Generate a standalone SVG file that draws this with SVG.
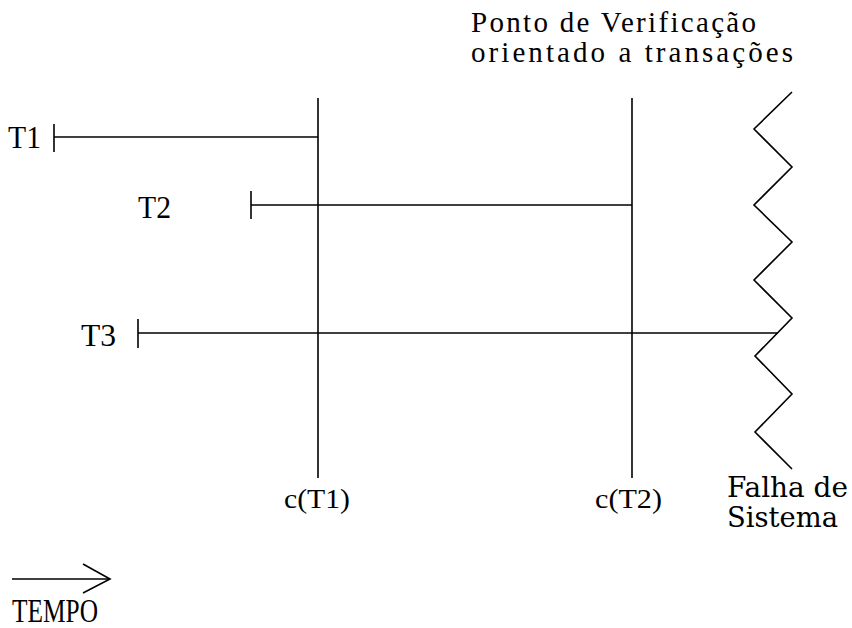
<svg xmlns="http://www.w3.org/2000/svg" width="852" height="628" viewBox="0 0 852 628">
  <style>
    .ln { stroke: #000; stroke-width: 1.6; fill: none; }
    .lbl { font-family: "Liberation Serif", serif; font-size: 31px; fill: #000; }
    .cp { font-family: "Liberation Serif", serif; font-size: 27px; fill: #000; }
    .mono { font-family: "DejaVu Serif", serif; font-size: 28px; fill: #000; }
    .title { font-family: "Liberation Serif", serif; font-size: 29px; fill: #000; }
    .axis { font-family: "Liberation Serif", serif; font-size: 33px; fill: #000; }
  </style>
  <rect width="852" height="628" fill="#fff"/>

  <!-- transactions -->
  <g id="t1">
    <line class="ln" x1="54" y1="124" x2="54" y2="152"/>
    <line class="ln" x1="54" y1="137" x2="318" y2="137"/>
    <text class="lbl" x="8" y="148" textLength="33" lengthAdjust="spacingAndGlyphs">T1</text>
  </g>
  <g id="t2">
    <line class="ln" x1="251" y1="191" x2="251" y2="219"/>
    <line class="ln" x1="251" y1="205" x2="632" y2="205"/>
    <text class="lbl" x="138" y="218" textLength="33" lengthAdjust="spacingAndGlyphs">T2</text>
  </g>
  <g id="t3">
    <line class="ln" x1="138" y1="319" x2="138" y2="348"/>
    <line class="ln" x1="138" y1="333" x2="778" y2="333"/>
    <text class="lbl" x="81" y="346" textLength="35" lengthAdjust="spacingAndGlyphs">T3</text>
  </g>

  <!-- commit points -->
  <g id="cT1">
    <line class="ln" x1="318" y1="98" x2="318" y2="478"/>
    <text class="cp" x="284" y="508" textLength="66" lengthAdjust="spacingAndGlyphs">c(T1)</text>
  </g>
  <g id="cT2">
    <line class="ln" x1="632" y1="98" x2="632" y2="478"/>
    <text class="cp" x="595" y="508" textLength="67" lengthAdjust="spacingAndGlyphs">c(T2)</text>
  </g>

  <!-- checkpoint caption -->
  <g id="checkpoint">
    <text class="title" x="471" y="32" textLength="285" lengthAdjust="spacing">Ponto de Verificação</text>
    <text class="title" x="471" y="62" textLength="322" lengthAdjust="spacing">orientado a transações</text>
  </g>

  <!-- system failure -->
  <g id="failure">
    <polyline class="ln" points="792,92 754,129 792,167 754,205 792,242 754,280 792,318 755,356 792,394 755,432 792,469"/>
    <text class="mono" x="727" y="497" textLength="121" lengthAdjust="spacingAndGlyphs">Falha de</text>
    <text class="mono" x="727" y="527" textLength="111" lengthAdjust="spacingAndGlyphs">Sistema</text>
  </g>

  <!-- time axis -->
  <g id="time">
    <line class="ln" x1="12" y1="579" x2="110" y2="579"/>
    <polyline class="ln" points="83,564 110,579 83,593"/>
    <text class="axis" x="12" y="622" textLength="86" lengthAdjust="spacingAndGlyphs">TEMPO</text>
  </g>
</svg>
